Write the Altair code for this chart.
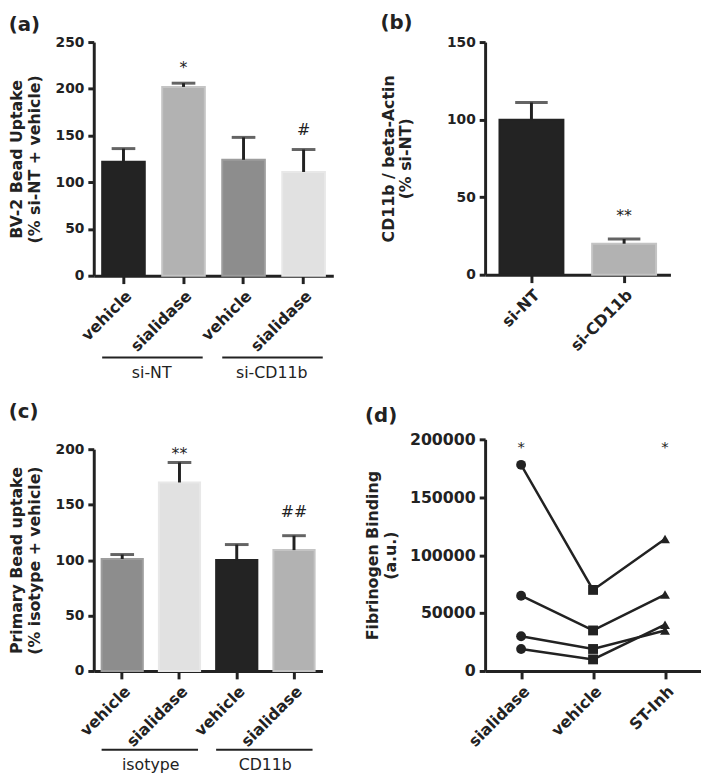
import altair as alt
import pandas as pd

FONT = "DejaVu Sans"
INK = "#222222"

# ---------------- data ----------------
# (a) BV-2 bead uptake
a_groups = ["si-NT", "si-NT", "si-CD11b", "si-CD11b"]
a_treat = ["vehicle", "sialidase", "vehicle", "sialidase"]
a_mean = [122, 202, 124, 111]
a_upper = [136, 206, 148, 135]
a_marks = ["", "*", "", "#"]
a_mark_y = [0, 222, 0, 156]

# (b) CD11b / beta-actin
b_cats = ["si-NT", "si-CD11b"]
b_mean = [100, 20]
b_upper = [111, 23]
b_marks = ["", "**"]
b_mark_y = [0, 38]

# (c) primary bead uptake
c_groups = ["isotype", "isotype", "CD11b", "CD11b"]
c_treat = ["vehicle", "sialidase", "vehicle", "sialidase"]
c_mean = [101, 170, 100, 109]
c_upper = [105, 188, 114, 122]
c_marks = ["", "**", "", "##"]
c_mark_y = [0, 196, 0, 143]

# (d) fibrinogen binding, paired per subject
d_cats = ["sialidase", "vehicle", "ST-Inh"]
d_sialidase = [178000, 65000, 30000, 19000]
d_vehicle = [70000, 35000, 19000, 10000]
d_stinh = [114000, 66000, 35000, 40000]
d_marks = ["*", "", "*"]
d_mark_y = [193000, 0, 193000]

# colours (style)
a_colors = ["#232323", "#b2b2b2", "#8d8d8d", "#e1e1e1"]
a_strokes = ["#232323", "#c4c4c4", "#9d9d9d", "#e8e8e8"]
b_colors = ["#232323", "#b2b2b2"]
b_strokes = ["#232323", "#c4c4c4"]
c_colors = ["#8d8d8d", "#e1e1e1", "#232323", "#b2b2b2"]
c_strokes = ["#9d9d9d", "#e8e8e8", "#232323", "#c4c4c4"]


def bar_panel(keys, means, uppers, marks, mark_y, colors, strokes, width, height,
              ymax, ystep, ytitle, title, title_offset, pin, pout, title_pad,
              label_expr=None, groups=None, rule_y=None, text_y=None, cap=24,
              text_dx=8, bar_stroke_w=2):
    df = pd.DataFrame({"key": keys, "mean": means, "upper": uppers})
    ann = pd.DataFrame({"key": keys, "m": marks, "y": mark_y})
    ann = ann[ann["m"] != ""]
    if label_expr:
        xaxis = alt.Axis(title=None, labelAngle=-45, labelFontSize=16, labelExpr=label_expr)
    else:
        xaxis = alt.Axis(title=None, labelAngle=-45, labelFontSize=16)
    xs = alt.Scale(domain=keys, paddingInner=pin, paddingOuter=pout)
    ys = alt.Scale(domain=[0, ymax], nice=False)
    yaxis = alt.Axis(title=ytitle, values=list(range(0, ymax + 1, ystep)),
                     titlePadding=title_pad)
    base = alt.Chart(df)
    bars = base.mark_bar(strokeWidth=bar_stroke_w).encode(
        x=alt.X("key:N", scale=xs, axis=xaxis, sort=keys),
        y=alt.Y("mean:Q", scale=ys, axis=yaxis),
        color=alt.Color("key:N", scale=alt.Scale(domain=keys, range=colors), legend=None),
        stroke=alt.Stroke("key:N", scale=alt.Scale(domain=keys, range=strokes), legend=None),
    )
    stems = base.mark_rule(strokeWidth=3, color=INK).encode(
        x=alt.X("key:N", scale=xs, axis=xaxis, sort=keys),
        y=alt.Y("mean:Q", scale=ys, axis=yaxis),
        y2="upper:Q",
    )
    caps = base.mark_tick(size=cap, thickness=3, color=INK, orient="horizontal").encode(
        x=alt.X("key:N", scale=xs, axis=xaxis, sort=keys),
        y=alt.Y("upper:Q", scale=ys, axis=yaxis),
    )
    txt = alt.Chart(ann).mark_text(font=FONT, fontSize=16, color=INK, baseline="middle").encode(
        x=alt.X("key:N", scale=xs, axis=xaxis, sort=keys),
        y=alt.Y("y:Q", scale=ys, axis=yaxis),
        text="m:N",
    )
    layers = [bars, stems, caps, txt]
    if groups is not None:
        gdf = pd.DataFrame({
            "start": [keys[0], keys[2]],
            "end": [keys[1], keys[3]],
            "label": [groups[0], groups[2]],
        })
        grule = alt.Chart(gdf).mark_rule(strokeWidth=2, color=INK).encode(
            x=alt.X("start:N", scale=xs, axis=xaxis, bandPosition=0),
            x2=alt.X2("end:N", bandPosition=0.95),
            y=alt.value(rule_y),
        )
        gtxt = alt.Chart(gdf).mark_text(font=FONT, fontSize=16, color=INK,
                                         baseline="alphabetic", dx=text_dx).encode(
            x=alt.X("start:N", scale=xs, axis=xaxis, bandPosition=1),
            y=alt.value(text_y),
            text="label:N",
        )
        layers += [grule, gtxt]
    return alt.layer(*layers).properties(
        width=width, height=height,
        title=alt.TitleParams(title, anchor="start", frame="bounds", fontSize=20,
                              fontWeight="bold", font=FONT, color=INK,
                              offset=title_offset),
    )


a_keys = [g + "|" + t for g, t in zip(a_groups, a_treat)]
c_keys = [g + "|" + t for g, t in zip(c_groups, c_treat)]
lbl = "split(datum.value, '|')[1]"

pa = bar_panel(a_keys, a_mean, a_upper, a_marks, a_mark_y, a_colors, a_strokes,
               243, 237, 250, 50, ["BV-2 Bead Uptake", "(% si-NT + vehicle)"],
               "(a)", 0, 0.29, 0.14, 13, label_expr=lbl, groups=a_groups,
               rule_y=320, text_y=341, text_dx=7)

pb = bar_panel(b_cats, b_mean, b_upper, b_marks, b_mark_y, b_colors, b_strokes,
               188, 236, 150, 50, ["CD11b / beta-Actin", "(% si-NT)"],
               "(b)", 2, 0.31, 0.155, 33, cap=33)

pc = bar_panel(c_keys, c_mean, c_upper, c_marks, c_mark_y, c_colors, c_strokes,
               232, 225, 200, 50, ["Primary Bead uptake", "(% isotype + vehicle)"],
               "(c)", 21, 0.28, 0.137, 13, label_expr=lbl, groups=c_groups,
               rule_y=305, text_y=325, text_dx=8)

# panel d
rows = []
for i in range(len(d_sialidase)):
    for cat, vals in zip(d_cats, [d_sialidase, d_vehicle, d_stinh]):
        rows.append({"subject": i, "cond": cat, "value": vals[i]})
ddf = pd.DataFrame(rows)
dann = pd.DataFrame({"cond": d_cats, "m": d_marks, "y": d_mark_y})
dann = dann[dann["m"] != ""]

dxs = alt.Scale(type="point", domain=d_cats, padding=0.5)
dys = alt.Scale(domain=[0, 200000], nice=False)
dxa = alt.Axis(title=None, labelAngle=-45, labelFontSize=16)
dya = alt.Axis(title=["Fibrinogen Binding", "(a.u.)"], values=[0, 50000, 100000, 150000, 200000],
               format="d", labelFontSize=16, titlePadding=11)
dbase = alt.Chart(ddf)
dlines = dbase.mark_line(strokeWidth=2.5, color=INK).encode(
    x=alt.X("cond:N", scale=dxs, axis=dxa, sort=d_cats),
    y=alt.Y("value:Q", scale=dys, axis=dya),
    detail="subject:N",
)
dpts = dbase.mark_point(filled=True, opacity=1, color=INK, size=100).encode(
    x=alt.X("cond:N", scale=dxs, axis=dxa, sort=d_cats),
    y=alt.Y("value:Q", scale=dys, axis=dya),
    shape=alt.Shape("cond:N", scale=alt.Scale(domain=d_cats,
                                               range=["circle", "square", "triangle-up"]),
                    legend=None),
)
dtxt = alt.Chart(dann).mark_text(font=FONT, fontSize=15, color=INK).encode(
    x=alt.X("cond:N", scale=dxs, axis=dxa, sort=d_cats),
    y=alt.Y("y:Q", scale=dys, axis=dya),
    text="m:N",
)
pd_ = alt.layer(dlines, dpts, dtxt).properties(
    width=219, height=235,
    title=alt.TitleParams("(d)", anchor="start", frame="bounds", fontSize=20,
                          fontWeight="bold", font=FONT, color=INK, offset=6),
)

ind = dict(color="independent", stroke="independent", shape="independent")
col1 = alt.vconcat(pa, pc, spacing=21).resolve_scale(**ind)
col2 = alt.vconcat(pb, pd_, spacing=52).resolve_scale(**ind)

chart = alt.hconcat(col1, col2, spacing=32).resolve_scale(**ind).properties(
    padding={"top": 0, "left": 0, "right": 0, "bottom": 0}).configure(
    font=FONT).configure_view(stroke=None).configure_axis(
    labelFont=FONT, titleFont=FONT, labelFontWeight="bold", titleFontWeight="bold",
    labelFontSize=14, titleFontSize=16, titleLineHeight=18,
    labelColor=INK, titleColor=INK, domainColor=INK, tickColor=INK,
    domainWidth=3, tickWidth=3, grid=False, labelPadding=4,
).configure_axisX(tickSize=8).configure_axisY(tickSize=6)

chart.save("out.html", embed_options={"renderer": "svg", "actions": False})
